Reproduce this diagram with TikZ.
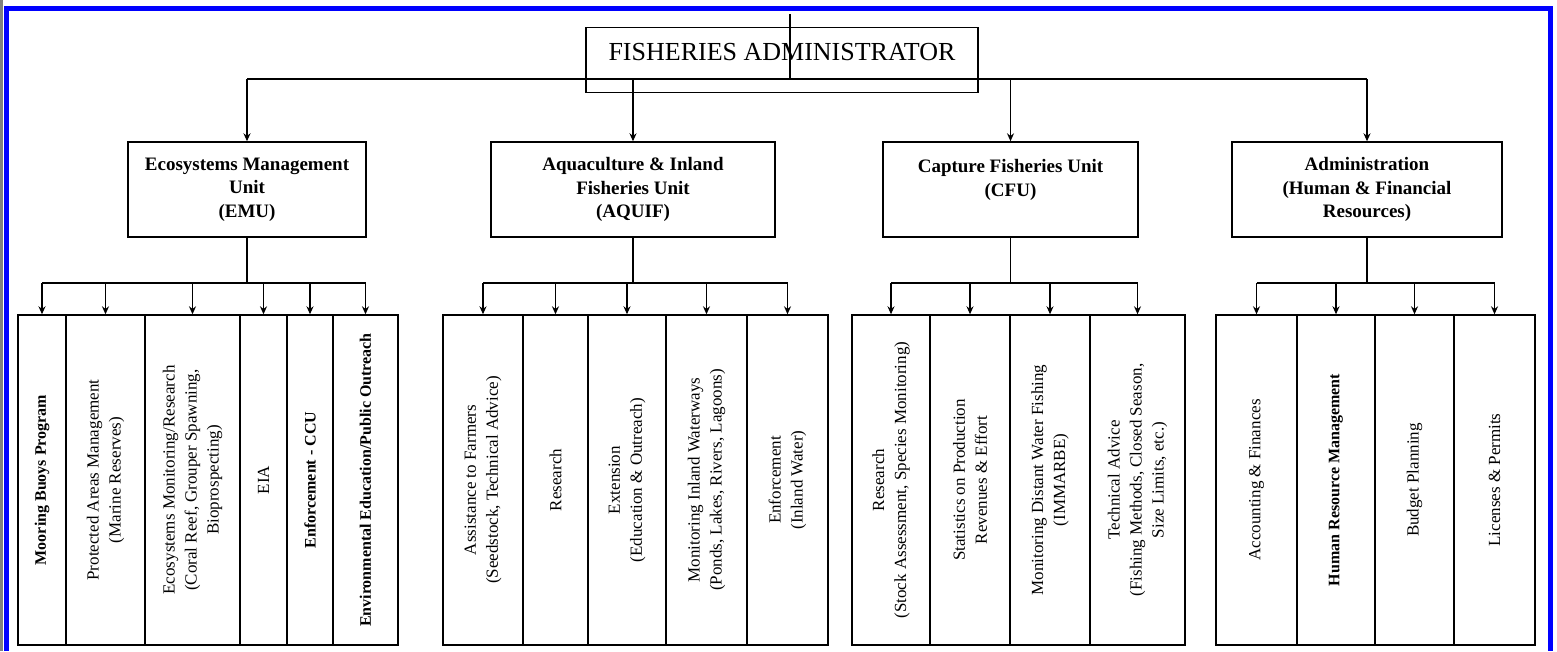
\documentclass[tikz,border=0pt]{standalone}
\usepackage{fontspec}
\setmainfont{Liberation Serif}
\usepackage{tikz}
\usetikzlibrary{arrows.meta, positioning}

\begin{document}
\begin{tikzpicture}[
	x=1pt, y=-1pt,
	boite/.style={draw, line width=1.4pt, inner sep=0pt, align=center},
	chef/.style={draw, line width=1.4pt, inner sep=0pt, minimum width=392pt, text height=33pt, text depth=32pt, font=\fontsize{26}{30}\selectfont},
	unite/.style={boite, minimum height=95pt, font=\fontsize{19}{23.5}\selectfont\bfseries},
	feuille/.style={boite, rotate=90, minimum width=330pt, font=\fontsize{17}{22}\selectfont}, % east = haut (noeud tourne)
	gras/.style={font=\fontsize{16}{21}\selectfont\bfseries},
	trait/.style={line width=1.5pt},
	fleche/.style={trait, -{Stealth[length=8pt, width=7pt]}}
	]
	\useasboundingbox (0,0) rectangle (1557,651);

	% Le cadre
	\draw[gray, line width=2.5pt] (1.25,0) -- (1.25,651);
	\draw[blue, line width=5pt] (6.5,651) -- (6.5,8.5) -- (1550.5,8.5) -- (1550.5,651);

	% Le sommet
	\node[chef] (fa) at (782,60) {FISHERIES ADMINISTRATOR};

	% Les unites
	\node[unite, minimum width=238pt] (emu) at (247,189.5) {Ecosystems Management\\Unit\\(EMU)};
	\node[unite, minimum width=284pt] (aqu) at (633,189.5) {Aquaculture \& Inland\\Fisheries Unit\\(AQUIF)};
	\node[unite, minimum width=255pt] (cfu) at (1010.5,189.5) {Capture Fisheries Unit\\(CFU)\\\mbox{}};
	\node[unite, minimum width=270pt] (adm) at (1367,189.5) {Administration\\(Human \& Financial\\Resources)};

	% Les services (EMU)
	\node[feuille, gras, minimum height=48pt] (e1) at (42,480) {Mooring Buoys Program};
	\node[feuille, minimum height=79pt] (e2) at (105.5,480) {Protected Areas Management\\(Marine Reserves)};
	\node[feuille, minimum height=95pt] (e3) at (192.5,480) {Ecosystems Monitoring/Research\\(Coral Reef, Grouper Spawning,\\Bioprospecting)};
	\node[feuille, minimum height=47pt] (e4) at (263.5,480) {EIA};
	\node[feuille, gras, minimum height=46pt] (e5) at (310,480) {Enforcement - CCU};
	\node[feuille, gras, minimum height=65pt] (e6) at (365.5,480) {Environmental Education/Public Outreach};

	% Les services (AQUIF)
	\node[feuille, minimum height=80pt] (a1) at (483,480) {Assistance to Farmers\\(Seedstock, Technical Advice)};
	\node[feuille, minimum height=65pt] (a2) at (555.5,480) {Research};
	\node[feuille, minimum height=78pt] (a3) at (627,480) {Extension\\(Education \& Outreach)};
	\node[feuille, minimum height=81pt] (a4) at (706.5,480) {Monitoring Inland Waterways\\(Ponds, Lakes, Rivers, Lagoons)};
	\node[feuille, minimum height=81pt] (a5) at (787.5,480) {Enforcement\\(Inland Water)};

	% Les services (CFU)
	\node[feuille, minimum height=78pt] (c1) at (891,480) {Research\\(Stock Assessment, Species Monitoring)};
	\node[feuille, minimum height=80pt] (c2) at (970,480) {Statistics on Production\\Revenues \& Effort};
	\node[feuille, minimum height=80pt] (c3) at (1050,480) {Monitoring Distant Water Fishing\\(IMMARBE)};
	\node[feuille, minimum height=95pt] (c4) at (1137.5,480) {Technical Advice\\(Fishing Methods, Closed Season,\\Size Limits, etc.)};

	% Les services (Administration)
	\node[feuille, minimum height=81pt] (d1) at (1256.5,480) {Accounting \& Finances};
	\node[feuille, gras, minimum height=78pt] (d2) at (1336,480) {Human Resource Management};
	\node[feuille, minimum height=79pt] (d3) at (1414.5,480) {Budget Planning};
	\node[feuille, minimum height=81pt] (d4) at (1494.5,480) {Licenses \& Permits};

	% Les liaisons du sommet
	\coordinate (t0) at (790,14);
	\coordinate (t1) at (790,79);
	\coordinate (niv) at (0,283);
	\draw[trait] (t0) -- (t1);
	\draw[trait] (emu.north |- t1) -- (adm.north |- t1);
	\draw[fleche] (emu.north |- t1) -- (emu.north);
	\draw[fleche] (aqu.north |- t1) -- (aqu.north);
	\draw[fleche] (cfu.north |- t1) -- (cfu.north);
	\draw[fleche] (adm.north |- t1) -- (adm.north);

	% Les liaisons EMU
	\draw[trait] (emu.south) -- (emu.south |- niv);
	\draw[trait] (e1.east |- niv) -- (e6.east |- niv);
	\draw[fleche] (e1.east |- niv) -- (e1.east);
	\draw[fleche] (e2.east |- niv) -- (e2.east);
	\draw[fleche] (e3.east |- niv) -- (e3.east);
	\draw[fleche] (e4.east |- niv) -- (e4.east);
	\draw[fleche] (e5.east |- niv) -- (e5.east);
	\draw[fleche] (e6.east |- niv) -- (e6.east);

	% Les liaisons AQUIF
	\draw[trait] (aqu.south) -- (aqu.south |- niv);
	\draw[trait] (a1.east |- niv) -- (a5.east |- niv);
	\draw[fleche] (a1.east |- niv) -- (a1.east);
	\draw[fleche] (a2.east |- niv) -- (a2.east);
	\draw[fleche] (a3.east |- niv) -- (a3.east);
	\draw[fleche] (a4.east |- niv) -- (a4.east);
	\draw[fleche] (a5.east |- niv) -- (a5.east);

	% Les liaisons CFU
	\draw[trait] (cfu.south) -- (cfu.south |- niv);
	\draw[trait] (c1.east |- niv) -- (c4.east |- niv);
	\draw[fleche] (c1.east |- niv) -- (c1.east);
	\draw[fleche] (c2.east |- niv) -- (c2.east);
	\draw[fleche] (c3.east |- niv) -- (c3.east);
	\draw[fleche] (c4.east |- niv) -- (c4.east);

	% Les liaisons Administration
	\draw[trait] (adm.south) -- (adm.south |- niv);
	\draw[trait] (d1.east |- niv) -- (d4.east |- niv);
	\draw[fleche] (d1.east |- niv) -- (d1.east);
	\draw[fleche] (d2.east |- niv) -- (d2.east);
	\draw[fleche] (d3.east |- niv) -- (d3.east);
	\draw[fleche] (d4.east |- niv) -- (d4.east);
\end{tikzpicture}
\end{document}
